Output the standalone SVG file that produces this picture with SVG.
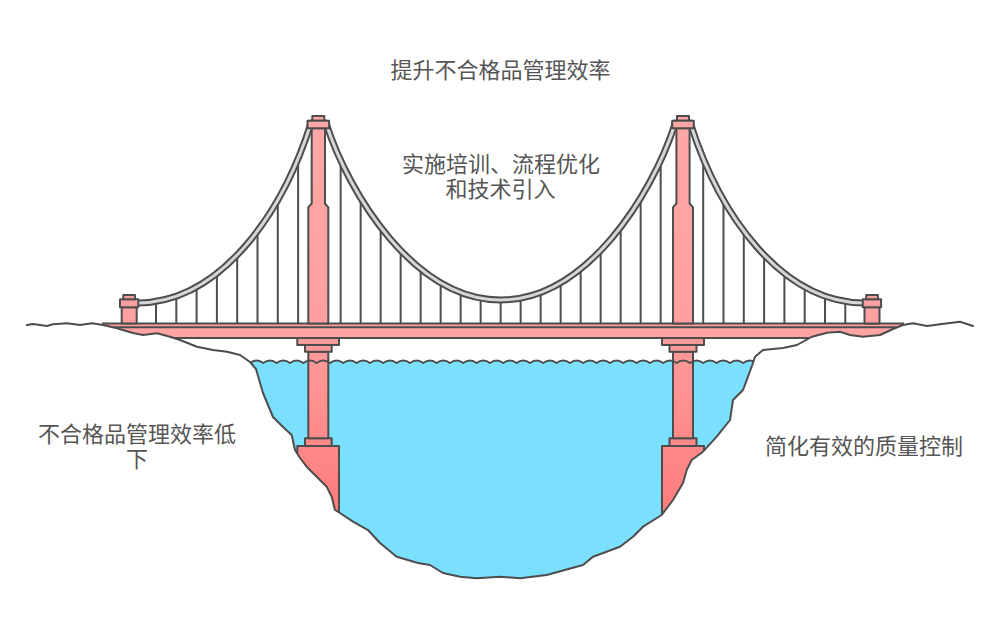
<svg xmlns="http://www.w3.org/2000/svg" width="1002" height="636" viewBox="0 0 1002 636">
<style>
.ln{stroke:#4D4D4D;stroke-width:2;stroke-linejoin:round;stroke-linecap:round}
.pk{fill:url(#pg);stroke:#4D4D4D;stroke-width:2;stroke-linejoin:round}
.dk{fill:#FFA3A3;stroke:#4D4D4D;stroke-width:2}
.hg{stroke:#4D4D4D;stroke-width:2;fill:none}
.cbo{fill:none;stroke:#4D4D4D;stroke-width:7;stroke-linecap:round}
.cbi{fill:none;stroke:#D6D6D6;stroke-width:3;stroke-linecap:round}
.t{font-family:"Liberation Sans","Noto Sans CJK SC",sans-serif;font-size:22px;fill:#555555;text-anchor:middle}
</style>
<defs>
<linearGradient id="pg" gradientUnits="userSpaceOnUse" x1="0" y1="110" x2="0" y2="520">
<stop offset="0" stop-color="#FFA7A7"/>
<stop offset="0.5" stop-color="#FFA0A0"/>
<stop offset="1" stop-color="#FF7B7B"/>
</linearGradient>
<clipPath id="under">
<path d="M138,303 C220,302 282,215 311,123 L326,123 C349,195 415,300 500.65,300 C586.3,300 652.3,195 675.3,123 L690.3,123 C719.3,215 781.3,302 863.3,303 L863.3,330 L138,330 Z"/>
</clipPath>
</defs>
<rect width="1002" height="636" fill="#FFFFFF"/>

<g id="water">
<path fill="#7BDFFE" d="M250,363 q6.67,-5 13.33,0 q6.67,-5 13.33,0 q6.67,-5 13.33,0 q6.67,-5 13.33,0 q6.67,-5 13.33,0 q6.67,-5 13.33,0 q6.67,-5 13.33,0 q6.67,-5 13.33,0 q6.67,-5 13.33,0 q6.67,-5 13.33,0 q6.67,-5 13.33,0 q6.67,-5 13.33,0 q6.67,-5 13.33,0 q6.67,-5 13.33,0 q6.67,-5 13.33,0 q6.67,-5 13.33,0 q6.67,-5 13.33,0 q6.67,-5 13.33,0 q6.67,-5 13.33,0 q6.67,-5 13.33,0 q6.67,-5 13.33,0 q6.67,-5 13.33,0 q6.67,-5 13.33,0 q6.67,-5 13.33,0 q6.67,-5 13.33,0 q6.67,-5 13.33,0 q6.67,-5 13.33,0 q6.67,-5 13.33,0 q6.67,-5 13.33,0 q6.67,-5 13.33,0 q6.67,-5 13.33,0 q6.67,-5 13.33,0 q6.67,-5 13.33,0 q6.67,-5 13.33,0 q6.67,-5 13.33,0 q6.67,-5 13.33,0 q6.67,-5 13.33,0 q6.67,-5 13.33,0 L760,600 L245,600 Z"/>
</g>

<g id="left-pier">
<rect class="pk" x="297.3" y="446" width="41.7" height="76"/>
<rect class="pk" x="305" y="438.3" width="26.7" height="7.7"/>
<rect class="pk" x="308.3" y="351.7" width="20" height="86.6"/>
<rect class="pk" x="305" y="345" width="26.7" height="6.7"/>
<rect class="pk" x="297.3" y="338" width="41.7" height="7"/>
</g>
<g id="right-pier">
<rect class="pk" x="662" y="446" width="42" height="76"/>
<rect class="pk" x="669.5" y="438.3" width="27" height="7.7"/>
<rect class="pk" x="673" y="351.7" width="20" height="86.6"/>
<rect class="pk" x="669.5" y="345" width="27" height="6.7"/>
<rect class="pk" x="662" y="338" width="42" height="7"/>
</g>

<g id="deck">
<rect class="dk" x="103" y="323.5" width="800" height="14.5"/>
<line class="ln" x1="103" y1="327.2" x2="903" y2="327.2"/>
</g>

<g id="waves">
<path class="ln" fill="none" d="M250,363 q6.67,-5 13.33,0 q6.67,-5 13.33,0 q6.67,-5 13.33,0 q6.67,-5 13.33,0 q6.67,-5 13.33,0 q6.67,-5 13.33,0 q6.67,-5 13.33,0 q6.67,-5 13.33,0 q6.67,-5 13.33,0 q6.67,-5 13.33,0 q6.67,-5 13.33,0 q6.67,-5 13.33,0 q6.67,-5 13.33,0 q6.67,-5 13.33,0 q6.67,-5 13.33,0 q6.67,-5 13.33,0 q6.67,-5 13.33,0 q6.67,-5 13.33,0 q6.67,-5 13.33,0 q6.67,-5 13.33,0 q6.67,-5 13.33,0 q6.67,-5 13.33,0 q6.67,-5 13.33,0 q6.67,-5 13.33,0 q6.67,-5 13.33,0 q6.67,-5 13.33,0 q6.67,-5 13.33,0 q6.67,-5 13.33,0 q6.67,-5 13.33,0 q6.67,-5 13.33,0 q6.67,-5 13.33,0 q6.67,-5 13.33,0 q6.67,-5 13.33,0 q6.67,-5 13.33,0 q6.67,-5 13.33,0 q6.67,-5 13.33,0 q6.67,-5 13.33,0 q6.67,-5 13.33,0"/>
</g>

<g id="land">
<path fill="#FFFFFF" stroke="none" d="M27,325 L33,324 L40,325 L47,326 L53,324.3 L67,323.3 L80,325 L92,323.3 L103,325 L117,328.3 L133,333 L143,335 L157,333.3 L170,336.7 L180,340 L197,346.7 L213,350 L227,351.7 L240,355 L250,362 L256,369 L263,393 L273,417 L283,427 L291.7,435 L295,450 L300,458 L306.7,466.7 L316.7,476.7 L326.7,486.7 L331.7,496.7 L335,510 L340,513 L353,521.7 L368,530 L380,543 L396.7,556.7 L418,563 L430,565 L443,573 L460,576.7 L476.7,578.3 L500,576.7 L520,578.3 L546.7,575 L583,565 L593,556.7 L620,546.7 L633,536.7 L643,526.7 L661.7,515 L673,500 L683,483 L686.7,470 L691.7,460 L703,451.7 L716.7,436.7 L730,420 L733,400 L743,390 L748,376.7 L753,363 L755,356.7 L763,350 L783,348 L797,345 L812,336.7 L827,332.7 L840,331.7 L850,335 L863,336.7 L880,335 L893,329 L903,325 L913,323.3 L927,326 L940,324.3 L960,321.7 L973,326 L1010,330 L1010,640 L-10,640 L-10,330 Z"/>
<path class="ln" fill="none" stroke-width="2.2" d="M27,325 L33,324 L40,325 L47,326 L53,324.3 L67,323.3 L80,325 L92,323.3 L103,325 L117,328.3 L133,333 L143,335 L157,333.3 L170,336.7 L180,340 L197,346.7 L213,350 L227,351.7 L240,355 L250,362 L256,369 L263,393 L273,417 L283,427 L291.7,435 L295,450 L300,458 L306.7,466.7 L316.7,476.7 L326.7,486.7 L331.7,496.7 L335,510 L340,513 L353,521.7 L368,530 L380,543 L396.7,556.7 L418,563 L430,565 L443,573 L460,576.7 L476.7,578.3 L500,576.7 L520,578.3 L546.7,575 L583,565 L593,556.7 L620,546.7 L633,536.7 L643,526.7 L661.7,515 L673,500 L683,483 L686.7,470 L691.7,460 L703,451.7 L716.7,436.7 L730,420 L733,400 L743,390 L748,376.7 L753,363 L755,356.7 L763,350 L783,348 L797,345 L812,336.7 L827,332.7 L840,331.7 L850,335 L863,336.7 L880,335 L893,329 L903,325 L913,323.3 L927,326 L940,324.3 L960,321.7 L973,326"/>
</g>

<g id="hangers" clip-path="url(#under)">
<path class="hg" d="M156,100V324 M176.3,100V324 M196.6,100V324 M216.9,100V324 M237.2,100V324 M257.5,100V324 M277.8,100V324 M298.1,100V324 M340.65,100V324 M360.65,100V324 M380.65,100V324 M400.65,100V324 M420.65,100V324 M440.65,100V324 M460.65,100V324 M480.65,100V324 M500.65,100V324 M520.65,100V324 M540.65,100V324 M560.65,100V324 M580.65,100V324 M600.65,100V324 M620.65,100V324 M640.65,100V324 M660.65,100V324 M703.2,100V324 M723.5,100V324 M743.8,100V324 M764.1,100V324 M784.4,100V324 M804.7,100V324 M825,100V324 M845.3,100V324"/>
</g>

<g id="left-tower">
<path class="pk" d="M311.7,128.3 L311.7,203.5 L308.3,207.3 L308.3,323.5 L328.3,323.5 L328.3,207.3 L325,203.5 L325,128.3 Z"/>
</g>
<g id="right-tower">
<path class="pk" d="M676.4,128.3 L676.4,203.5 L673,207.3 L673,323.5 L693,323.5 L693,207.3 L689.6,203.5 L689.6,128.3 Z"/>
</g>

<g id="cables">
<path class="cbo" d="M138,303 C220,302 282,215 311,123"/>
<path class="cbo" d="M326,123 C349,195 415,300 500.65,300 C586.3,300 652.3,195 675.3,123"/>
<path class="cbo" d="M690.3,123 C719.3,215 781.3,302 863.3,303"/>
<path class="cbi" d="M138,303 C220,302 282,215 311,123"/>
<path class="cbi" d="M326,123 C349,195 415,300 500.65,300 C586.3,300 652.3,195 675.3,123"/>
<path class="cbi" d="M690.3,123 C719.3,215 781.3,302 863.3,303"/>
</g>

<g id="tower-caps">
<rect class="pk" x="312.3" y="116" width="12" height="4.7"/>
<rect class="pk" x="307.5" y="120.7" width="21.6" height="7.6"/>
<rect class="pk" x="677" y="116" width="12" height="4.7"/>
<rect class="pk" x="672.2" y="120.7" width="21.6" height="7.6"/>
</g>

<g id="left-end-post">
<rect class="pk" x="121.7" y="307.3" width="15" height="16.2"/>
<rect class="pk" x="120" y="299.3" width="18.3" height="8"/>
<rect class="pk" x="123.3" y="295" width="11.7" height="4.3"/>
</g>
<g id="right-end-post">
<rect class="pk" x="864.5" y="307.3" width="15" height="16.2"/>
<rect class="pk" x="862.8" y="299.3" width="18.3" height="8"/>
<rect class="pk" x="866.2" y="295" width="11.7" height="4.3"/>
</g>

<g id="labels">
<text id="label-goal" class="t" x="500.5" y="78">提升不合格品管理效率</text>
<text id="label-bridge" class="t" x="501" y="172"><tspan x="501" y="172">实施培训、流程优化</tspan><tspan x="500.5" y="196.8">和技术引入</tspan></text>
<text id="label-left" class="t" x="137" y="441.5"><tspan x="137" y="441.5">不合格品管理效率低</tspan><tspan x="137" y="467">下</tspan></text>
<text id="label-right" class="t" x="864" y="454">简化有效的质量控制</text>
</g>
</svg>
